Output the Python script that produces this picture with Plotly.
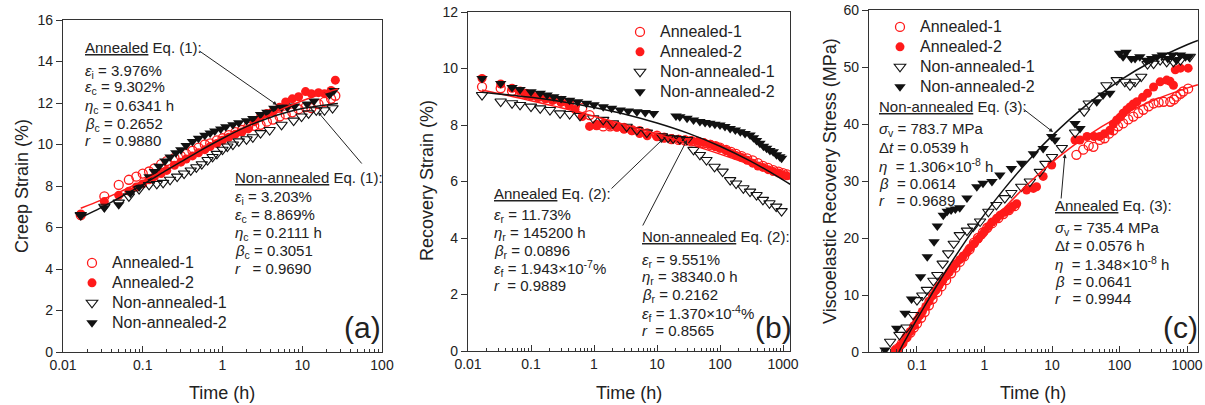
import plotly.graph_objects as go

W, H = 1205, 405
FONT = "Liberation Sans, Arial, sans-serif"
TXT = "#222222"
RED = "#ff1a1a"

# ---------------- Panel (a): creep strain ----------------
a_time_ann = [0.0167, 0.033, 0.05, 0.067, 0.083, 0.1, 0.12, 0.14, 0.17, 0.2, 0.25, 0.3, 0.35, 0.42, 0.5, 0.6,
              0.7, 0.85, 1.0, 1.2, 1.45, 1.75, 2.1, 2.5, 3.0, 3.6, 4.3, 5.2, 6.2, 7.5, 9, 11, 13, 16, 19, 23, 26]
a_ann1 = [6.6, 7.5, 8.05, 8.3, 8.45, 8.6, 8.7, 8.85, 9.05, 9.2, 9.35, 9.45, 9.55, 9.7, 9.85, 10.0, 10.05, 10.2,
          10.3, 10.45, 10.6, 10.7, 10.85, 10.9, 10.95, 11.1, 11.2, 11.35, 11.45, 11.55, 11.7, 11.8, 11.75, 11.95,
          12.05, 12.2, 12.35]
a_ann2 = [6.65, 7.25, 7.55, 7.75, 7.95, 8.1, 8.3, 8.45, 8.6, 8.75, 9.0, 9.15, 9.3, 9.45, 9.6, 9.75, 9.9, 10.05,
          10.2, 10.35, 10.5, 10.6, 10.75, 11.1, 11.35, 11.5, 11.6, 11.8, 12.05, 12.2, 12.3, 12.55, 12.45, 12.5,
          12.45, 12.6, 13.1]
a_time_na1 = [0.0167, 0.033, 0.05, 0.067, 0.09, 0.12, 0.15, 0.18, 0.22, 0.27, 0.33, 0.4, 0.47, 0.55, 0.65, 0.75,
              0.85, 1.0, 1.15, 1.35, 1.6, 2.0, 2.4, 3.0, 3.9, 5.5, 7.8, 9.8, 12, 15, 19, 24]
a_na1 = [6.6, 7.0, 7.2, 7.5, 7.85, 8.05, 8.1, 8.15, 8.3, 8.45, 8.6, 8.75, 8.9, 9.05, 9.25, 9.4, 9.55, 9.75, 9.9,
         10.0, 10.15, 10.25, 10.35, 10.55, 10.7, 10.95, 11.15, 11.35, 11.5, 11.65, 11.65, 11.75]
a_time_na2 = [0.0167, 0.033, 0.05, 0.07, 0.09, 0.12, 0.14, 0.16, 0.19, 0.22, 0.26, 0.3, 0.35, 0.42, 0.5, 0.6, 0.7,
              0.8, 0.95, 1.1, 1.35, 1.6, 2.0, 2.4, 3.0, 3.6, 4.4, 5.5, 6.5, 8, 11.5, 14, 22, 25]
a_na2 = [6.6, 6.95, 7.1, 7.65, 7.95, 8.45, 8.7, 8.95, 9.2, 9.4, 9.6, 9.75, 9.95, 10.15, 10.3, 10.45, 10.55, 10.65,
         10.75, 10.85, 10.95, 11.05, 11.15, 11.25, 11.45, 11.55, 11.75, 11.8, 11.8, 11.85, 11.95, 12.1, 12.4, 12.6]
a_fit_time = [0.0167, 0.03, 0.05, 0.1, 0.2, 0.3, 0.5, 1, 2, 3, 5, 10, 20, 28]
a_fit_ann = [6.93, 7.32, 7.69, 8.24, 8.82, 9.18, 9.64, 10.27, 10.88, 11.22, 11.63, 12.11, 12.51, 12.67]
a_fit_na = [6.48, 6.96, 7.42, 8.07, 8.76, 9.16, 9.66, 10.29, 10.86, 11.13, 11.43, 11.73, 11.91, 11.97]

# ---------------- Panel (b): recovery strain ----------------
b_time_ann = [0.0167, 0.033, 0.05, 0.067, 0.083, 0.1, 0.13, 0.17, 0.22, 0.3, 0.4, 0.5, 0.65, 0.85, 1.1, 1.4, 1.8,
              2.3, 3, 4, 5.3, 7, 10, 13, 17, 22, 28, 35, 45, 55, 70, 85, 100, 125, 150, 180, 220, 270, 330, 400,
              480, 580, 700, 850, 1000, 1150]
b_ann1 = [9.35, 9.3, 9.2, 9.15, 9.1, 9.05, 9.0, 8.95, 8.9, 8.85, 8.78, 8.7, 8.6, 8.35, 8.0, 7.95, 7.95, 7.95, 7.9,
          7.82, 7.78, 7.7, 7.62, 7.55, 7.5, 7.47, 7.45, 7.42, 7.4, 7.35, 7.3, 7.25, 7.2, 7.12, 7.05, 6.98, 6.9,
          6.82, 6.75, 6.65, 6.55, 6.48, 6.4, 6.35, 6.3, 6.25]
b_ann2 = [9.65, 9.45, 9.3, 9.2, 9.1, 9.05, 9.0, 8.95, 8.88, 8.8, 8.7, 8.55, 8.3, 7.95, 8.0, 8.05, 7.98, 7.92, 7.85,
          7.8, 7.7, 7.62, 7.58, 7.55, 7.52, 7.5, 7.48, 7.45, 7.42, 7.38, 7.32, 7.25, 7.18, 7.1, 7.0, 6.92, 6.85,
          6.75, 6.65, 6.55, 6.5, 6.42, 6.35, 6.3, 6.22, 6.2]
b_time_na1 = [0.0167, 0.033, 0.05, 0.067, 0.1, 0.14, 0.2, 0.29, 0.41, 0.6, 0.97, 1.4, 2.0, 3.3, 4.8, 6.9, 12, 15,
              18, 23, 30, 38, 48, 61, 82, 110, 145, 180, 235, 300, 380, 480, 610, 780, 950]
b_na1 = [9.06, 8.83, 8.77, 8.71, 8.65, 8.59, 8.53, 8.41, 8.39, 8.32, 8.24, 8.18, 8.06, 7.94, 7.82, 7.73, 7.6, 7.55,
         7.53, 7.5, 7.47, 7.12, 6.94, 6.76, 6.52, 6.35, 6.05, 5.93, 5.76, 5.64, 5.52, 5.35, 5.23, 5.11, 4.95]
b_time_na2 = [0.0167, 0.033, 0.05, 0.067, 0.1, 0.14, 0.18, 0.23, 0.3, 0.41, 0.55, 0.76, 1.0, 1.4, 1.9, 2.6, 3.5,
              4.8, 6.5, 8.8, 20, 23, 30, 38, 48, 58, 69, 83, 100, 120, 145, 175, 210, 250, 300, 340, 380, 430,
              490, 550, 620, 700, 790, 890, 950]
b_na2 = [9.65, 9.47, 9.33, 9.26, 9.18, 9.12, 9.06, 9.0, 8.94, 8.88, 8.82, 8.77, 8.72, 8.65, 8.59, 8.53, 8.5, 8.47,
         8.44, 8.41, 8.32, 8.29, 8.24, 8.18, 8.12, 8.09, 8.06, 8.03, 8.0, 7.95, 7.88, 7.82, 7.76, 7.7, 7.65, 7.55,
         7.45, 7.35, 7.25, 7.18, 7.1, 7.05, 6.95, 6.88, 6.82]
b_fit_time = [0.0167, 0.05, 0.1, 0.3, 1, 3, 10, 30, 100, 300, 1000, 1300]
b_fit_ann = [9.24, 9.01, 8.86, 8.61, 8.31, 8.02, 7.68, 7.35, 6.97, 6.60, 6.18, 6.09]
b_fit_na = [9.16, 9.05, 8.98, 8.83, 8.62, 8.39, 8.07, 7.72, 7.25, 6.73, 6.06, 5.90]

# ---------------- Panel (c): viscoelastic recovery stress ----------------
c_time_ann1 = [0.05, 0.06, 0.07, 0.08, 0.09, 0.1, 0.115, 0.13, 0.15, 0.17, 0.2, 0.23, 0.27, 0.32, 0.37, 0.43, 0.5,
               0.6, 0.7, 0.8, 0.95, 1.1, 1.3, 1.6, 1.9, 2.3, 2.8, 23, 29, 35, 41, 51, 60, 70, 81, 95, 113, 135,
               160, 190, 225, 270, 320, 380, 450, 565, 640, 700, 800, 880, 1040]
c_ann1 = [0.5, 1.5, 2.6, 3.4, 4.3, 5.0, 6.0, 7.0, 8.2, 9.3, 10.5, 11.5, 12.6, 13.8, 14.8, 15.8, 16.8, 18.0, 19.2,
          20.0, 21.0, 21.8, 22.6, 23.5, 24.2, 24.9, 25.6, 34.6, 35.5, 36.2, 36.0, 37.2, 37.5, 38.3, 38.9, 39.6,
          40.1, 40.8, 41.3, 41.9, 42.5, 43.1, 43.6, 43.8, 43.9, 43.9, 44.3, 44.8, 45.3, 45.7, 46.2]
c_time_ann2 = [0.047, 0.055, 0.062, 0.07, 0.08, 0.09, 0.1, 0.11, 0.12, 0.135, 0.15, 0.17, 0.19, 0.21, 0.24, 0.27,
               0.3, 0.34, 0.38, 0.43, 0.48, 0.55, 0.62, 0.7, 0.8, 0.9, 1.0, 1.15, 1.3, 1.5, 1.7, 2.0, 2.3, 2.6,
               3.0, 4.2, 5.3, 5.9, 7.4, 9.9, 21.9, 26, 33, 42, 51, 60, 72, 81, 91, 102, 113, 128, 143, 160, 181,
               220, 260, 320, 400, 500, 560, 630, 670, 800, 1040]
c_ann2 = [0.3, 1.0, 1.6, 2.5, 3.6, 4.6, 5.6, 6.4, 7.1, 8.0, 8.9, 9.9, 10.8, 11.6, 12.5, 13.3, 14.0, 14.8, 15.5,
          16.2, 16.8, 17.5, 18.3, 19.0, 19.8, 20.5, 21.2, 22.0, 22.8, 23.4, 24.0, 24.5, 25.0, 25.5, 26.0, 28.4,
          28.7, 29.0, 30.8, 32.8, 37.2, 37.2, 37.8, 37.8, 37.8, 38.3, 38.9, 40.0, 40.7, 41.2, 41.9, 42.5, 43.0,
          43.5, 43.9, 44.7, 45.4, 46.5, 47.4, 47.7, 47.5, 46.8, 49.5, 49.8, 49.8]
c_time_na1 = [0.04, 0.055, 0.07, 0.088, 0.1, 0.12, 0.14, 0.175, 0.2, 0.24, 0.29, 0.35, 0.43, 0.55, 0.68, 0.86,
              1.14, 1.5, 2.0, 2.5, 3.5, 4.7, 6.6, 8.0, 10, 14, 22, 30, 35, 64, 91, 120, 143, 170, 210, 260, 320,
              400, 500, 630, 800, 1100]
c_na1 = [1.8, 3.0, 4.3, 6.5, 9.1, 9.9, 10.9, 12.5, 13.5, 15.5, 17.3, 19.0, 20.5, 21.3, 22.0, 22.9, 24.6, 25.8,
         27.0, 27.9, 29.0, 29.9, 31.6, 33.0, 34.2, 35.8, 38.5, 42.2, 43.6, 46.8, 47.7, 47.4, 46.8, 47.4, 48.3,
         50.5, 50.6, 51.2, 50.9, 50.9, 51.2, 51.8]
c_time_na2 = [0.0336, 0.05, 0.0665, 0.083, 0.113, 0.142, 0.179, 0.2, 0.245, 0.28, 0.32, 0.37, 0.43, 0.55, 0.77,
              0.95, 1.29, 1.69, 2.5, 3.55, 5.3, 7.4, 9.9, 11.1, 21.9, 26, 46, 57, 72, 100, 113, 125, 150, 170, 200,
              250, 300, 360, 430, 520, 610, 700, 800, 950, 1070]
c_na2 = [0.35, 4.15, 6.8, 9.3, 13.2, 16.7, 19.35, 22.1, 24.0, 24.7, 24.9, 25.1, 25.3, 27.0, 29.0, 29.6, 29.9,
         31.05, 32.2, 33.1, 34.8, 35.7, 37.8, 37.2, 40.1, 39.2, 43.9, 45.1, 45.4, 52.4, 51.8, 52.6, 51.5, 51.5,
         51.8, 51.2, 51.5, 51.8, 52.1, 51.5, 52.1, 51.2, 52.1, 51.8, 51.8]
c_fit_time_ann = [0.0576, 0.062, 0.07, 0.1, 0.15, 0.2, 0.3, 0.5, 1, 2, 5, 10, 30, 100, 300, 1000, 1450]
c_fit_ann = [0, 0.63, 1.68, 4.68, 7.96, 10.19, 13.19, 16.77, 21.26, 25.33, 30.10, 33.26, 37.56, 41.33, 44.04,
             46.30, 46.87]
c_fit_time_na = [0.0539, 0.058, 0.07, 0.1, 0.15, 0.2, 0.3, 0.5, 1, 2, 5, 10, 30, 100, 300, 1000, 1450]
c_fit_na = [0, 0.72, 2.48, 5.76, 9.34, 11.80, 15.13, 19.11, 24.15, 28.75, 34.23, 37.92, 43.01, 47.59, 50.97,
            53.90, 54.65]

series_names = ["Annealed-1", "Annealed-2", "Non-annealed-1", "Non-annealed-2"]

fig = go.Figure()

styles = [
    dict(symbol="circle-open", size=9, color=RED, line=dict(width=1.3, color=RED)),
    dict(symbol="circle", size=9, color=RED, line=dict(width=0, color=RED)),
    dict(symbol="triangle-down-open", size=10, color="#111", line=dict(width=1.1, color="#111")),
    dict(symbol="triangle-down", size=10, color="#111", line=dict(width=0, color="#111")),
]

panels = [
    ("x", "y", "legend", [(a_time_ann, a_ann1), (a_time_ann, a_ann2), (a_time_na1, a_na1), (a_time_na2, a_na2)],
     [(a_fit_time, a_fit_ann, RED), (a_fit_time, a_fit_na, "#111")]),
    ("x2", "y2", "legend2", [(b_time_ann, b_ann1), (b_time_ann, b_ann2), (b_time_na1, b_na1), (b_time_na2, b_na2)],
     [(b_fit_time, b_fit_ann, RED), (b_fit_time, b_fit_na, "#111")]),
    ("x3", "y3", "legend3", [(c_time_ann1, c_ann1), (c_time_ann2, c_ann2), (c_time_na1, c_na1), (c_time_na2, c_na2)],
     [(c_fit_time_ann, c_fit_ann, RED), (c_fit_time_na, c_fit_na, "#111")]),
]

for xa, ya, lg, data, fits in panels:
    for (t, v), name, st in zip(data, series_names, styles):
        fig.add_trace(go.Scatter(x=t, y=v, mode="markers", name="<span style='font-size:16px'>" + name + "</span>",
                                 xaxis=xa, yaxis=ya, legend=lg, marker=st, showlegend=True))
    for t, v, col in fits:
        fig.add_trace(go.Scatter(x=t, y=v, mode="lines", xaxis=xa, yaxis=ya, showlegend=False,
                                 line=dict(color=col, width=1.5, shape="spline"), hoverinfo="skip"))


def px(x):
    return x / W


def py(y):
    return 1 - y / H


minor_vals = [k * 10 ** e for e in range(-2, 4) for k in range(2, 10)]
AX = dict(showline=True, linecolor="#333", linewidth=1.3, mirror=True, showgrid=False, zeroline=False,
          automargin=False, tickfont=dict(size=14, color=TXT, family=FONT))
XLOG = dict(AX, type="log", ticks="inside", ticklen=6, tickcolor="#333", tickwidth=1,
            minor=dict(tickvals=minor_vals, ticks="inside", ticklen=3, tickcolor="#333", tickwidth=1,
                       showgrid=False))
YLIN = dict(AX, ticks="outside", ticklen=6, tickcolor="#333", tickwidth=1, ticklabeloverflow="allow")

fig.update_layout(
    width=W, height=H, autosize=False, margin=dict(l=0, r=0, t=0, b=0, pad=0),
    paper_bgcolor="white", plot_bgcolor="white",
    font=dict(family=FONT, color=TXT),
    xaxis=dict(XLOG, domain=[px(63), px(382)], range=[-2, 2], anchor="y",
               tickvals=[0.01, 0.1, 1, 10, 100], ticktext=["0.01", "0.1", "1", "10", "100"]),
    yaxis=dict(YLIN, domain=[py(352), py(20)], range=[0, 16], dtick=2, anchor="x"),
    xaxis2=dict(XLOG, domain=[px(468), px(790)], range=[-2, 3.111], anchor="y2",
                tickvals=[0.01, 0.1, 1, 10, 100, 1000], ticktext=["0.01", "0.1", "1", "10", "100", "1000"]),
    yaxis2=dict(YLIN, domain=[py(351), py(12)], range=[0, 12], dtick=2, anchor="x2"),
    xaxis3=dict(XLOG, domain=[px(869), px(1198)], range=[-1.711, 3.163], anchor="y3",
                tickvals=[0.1, 1, 10, 100, 1000], ticktext=["0.1", "1", "10", "100", "1000"]),
    yaxis3=dict(YLIN, domain=[py(352), py(10)], range=[0, 60], dtick=10, anchor="x3"),
)

LEG = dict(bgcolor="rgba(0,0,0,0)", borderwidth=0, font=dict(size=13, color=TXT, family=FONT),
           xanchor="left", yanchor="top", itemwidth=30, tracegroupgap=0)
fig.update_layout(
    legend=dict(LEG, x=px(72), y=py(248)),
    legend2=dict(LEG, x=px(620), y=py(17)),
    legend3=dict(LEG, x=px(880), y=py(12)),
)

ann = []


def text(x, y, s, size=15, anchor="left", angle=0):
    ann.append(dict(x=px(x), y=py(y), xref="paper", yref="paper", text=s, showarrow=False,
                    xanchor=anchor, yanchor="middle", textangle=angle,
                    font=dict(size=size, color=TXT, family=FONT)))


def arrow(x0, y0, x1, y1):
    ann.append(dict(x=px(x1), y=py(y1), xref="paper", yref="paper", text="", showarrow=True,
                    ax=x0 - x1, ay=y0 - y1, arrowhead=2, arrowsize=0.8, arrowwidth=1, arrowcolor="#222",
                    standoff=0, startstandoff=0))


NB = "\u00a0"
# panel (a)
text(83, 48, "<u>Annealed</u> Eq. (1):")
text(83, 71, "<i>ε</i><sub>i</sub> = 3.976%")
text(83, 88, "<i>ε</i><sub>c</sub> = 9.302%")
text(83, 106, "<i>η</i><sub>c</sub> = 0.6341 h")
text(83, 124, "<i>β</i><sub>c</sub> = 0.2652")
text(83, 141, "<i>r</i>" + NB + NB + " = 0.9880")
arrow(198, 50, 277, 105)
text(233, 177, "<u>Non-annealed</u> Eq. (1):")
text(233, 197, "<i>ε</i><sub>i</sub> = 3.203%")
text(233, 215, "<i>ε</i><sub>c</sub> = 8.869%")
text(233, 233, "<i>η</i><sub>c</sub> = 0.2111 h")
text(233, 251, "<i>β</i><sub>c</sub> = 0.3051")
text(233, 268, "<i>r</i>" + NB + NB + " = 0.9690")
arrow(363, 165, 318, 112)
text(362, 327, "(a)", size=30, anchor="center")

# panel (b)
text(492, 193, "<u>Annealed</u> Eq. (2):")
text(492, 215, "<i>ε</i><sub>r</sub> = 11.73%")
text(492, 233, "<i>η</i><sub>r</sub> = 145200 h")
text(492, 251, "<i>β</i><sub>r</sub> = 0.0896")
text(492, 268, "<i>ε</i><sub>f</sub> = 1.943×10<sup>-7</sup>%")
text(492, 285, "<i>r</i>" + NB + " = 0.9889")
arrow(610, 190, 663, 139)
text(640, 236, "<u>Non-annealed</u> Eq. (2):")
text(640, 260, "<i>ε</i><sub>r</sub> = 9.551%")
text(640, 277, "<i>η</i><sub>r</sub> = 38340.0 h")
text(640, 295, "<i>β</i><sub>r</sub> = 0.2162")
text(640, 313, "<i>ε</i><sub>f</sub> = 1.370×10<sup>-4</sup>%")
text(640, 330, "<i>r</i>" + NB + " = 0.8565")
arrow(642, 227, 687, 140)
text(773, 327, "(b)", size=30, anchor="center")

# panel (c)
text(877, 107, "<u>Non-annealed</u> Eq. (3):")
text(877, 129, "<i>σ</i><sub>v</sub> = 783.7 MPa")
text(877, 147, "Δ<i>t</i> = 0.0539 h")
text(877, 165, "<i>η</i>" + NB + " = 1.306×10<sup>-8</sup> h")
text(877, 183, "<i>β</i>" + NB + " = 0.0614")
text(877, 200, "<i>r</i>" + NB + NB + " = 0.9689")
arrow(1022, 108, 1053, 132)
text(1053, 205, "<u>Annealed</u> Eq. (3):")
text(1053, 228, "<i>σ</i><sub>v</sub> = 735.4 MPa")
text(1053, 245, "Δ<i>t</i> = 0.0576 h")
text(1053, 263, "<i>η</i>" + NB + " = 1.348×10<sup>-8</sup> h")
text(1053, 281, "<i>β</i>" + NB + " = 0.0641")
text(1053, 298, "<i>r</i>" + NB + NB + " = 0.9944")
arrow(1061, 200, 1065, 154)
text(1180, 327, "(c)", size=30, anchor="center")

# axis titles
text(22, 186, "Creep Strain (%)", size=18, anchor="center", angle=-90)
text(427, 181, "Recovery Strain (%)", size=18, anchor="center", angle=-90)
text(830, 181, "Viscoelastic Recovery Stress (MPa)", size=18, anchor="center", angle=-90)
text(222, 393, "Time (h)", size=18, anchor="center")
text(629, 393, "Time (h)", size=18, anchor="center")
text(1033, 393, "Time (h)", size=18, anchor="center")

fig.update_layout(annotations=ann)
# remove the browser's default 8px page margin so the 1205x405 figure fills the window exactly
fig.write_html("out.html", config={"displayModeBar": False},
               post_script="document.body.style.margin='0px';document.body.style.overflow='hidden';")
